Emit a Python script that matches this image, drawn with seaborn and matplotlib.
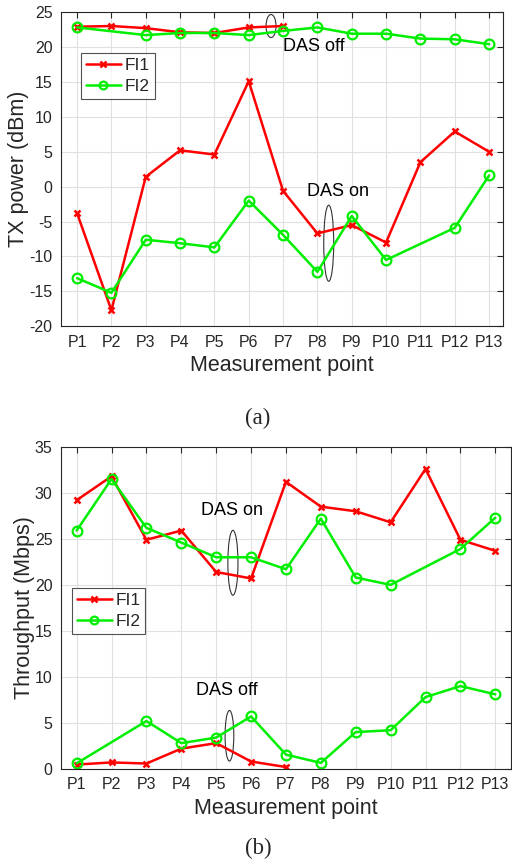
import numpy as np
import pandas as pd
import matplotlib
matplotlib.use("Agg")
import matplotlib.pyplot as plt
from matplotlib.patches import Ellipse
import seaborn as sns

points = ["P%d" % i for i in range(1, 14)]
nan = np.nan

# (a) TX power (dBm)
tx_fi1_off = [22.9, 23.0, 22.7, 22.1, 22.0, 22.8, 23.0, nan, nan, nan, nan, nan, nan]
tx_fi2_off = [22.8, nan, 21.7, 22.0, 22.0, 21.7, 22.3, 22.8, 21.9, 21.9, 21.2, 21.1, 20.4]
tx_fi1_on = [-3.8, -17.7, 1.4, 5.2, 4.6, 15.1, -0.6, -6.7, -5.5, -8.0, 3.5, 7.9, 5.0]
tx_fi2_on = [-13.1, -15.2, -7.6, -8.1, -8.7, -2.0, -6.9, -12.2, -4.2, -10.5, nan, -5.9, 1.6]

# (b) Throughput (Mbps)
th_fi1_on = [29.2, 31.8, 24.9, 25.9, 21.4, 20.7, 31.2, 28.5, 28.0, 26.8, 32.6, 24.9, 23.7]
th_fi2_on = [25.9, 31.5, 26.2, 24.6, 23.0, 23.0, 21.7, 27.2, 20.8, 20.0, nan, 23.9, 27.3]
th_fi1_off = [0.47, 0.7, 0.58, 2.2, 2.8, 0.8, 0.2, nan, nan, nan, nan, nan, nan]
th_fi2_off = [0.6, nan, 5.2, 2.8, 3.4, 5.7, 1.55, 0.65, 4.0, 4.2, 7.8, 9.0, 8.1]

sns.set_style("whitegrid")
plt.rcParams["font.family"] = ["Liberation Sans", "DejaVu Sans"]
plt.rcParams["axes.unicode_minus"] = False

fig = plt.figure(figsize=(5.12, 8.61), dpi=100)
ax1 = fig.add_axes([0.119, 0.621, 0.863, 0.365])
ax2 = fig.add_axes([0.119, 0.107, 0.879, 0.374])

RED = "#ff0000"
GREEN = "#00ee00"
dark = "#262626"


def draw(ax, vals, fi, label):
    df = pd.DataFrame({"x": np.arange(1, 14), "y": vals}).dropna()
    if fi == 1:
        sns.lineplot(data=df, x="x", y="y", ax=ax, color=RED, lw=1.8, ls="-",
                     marker="x", markersize=5, mew=1.8, mec=RED, label=label)
    else:
        sns.lineplot(data=df, x="x", y="y", ax=ax, color=GREEN, lw=1.8, ls="-",
                     marker="o", markersize=7, mew=1.6, mfc="none",
                     mec=GREEN, label=label)


draw(ax1, tx_fi1_off, 1, "FI1")
draw(ax1, tx_fi2_off, 2, "FI2")
draw(ax1, tx_fi1_on, 1, None)
draw(ax1, tx_fi2_on, 2, None)

draw(ax2, th_fi1_on, 1, "FI1")
draw(ax2, th_fi2_on, 2, "FI2")
draw(ax2, th_fi1_off, 1, None)
draw(ax2, th_fi2_off, 2, None)

for ax, ylab, ylim, xlim in [
    (ax1, "TX power (dBm)", (-20, 25), (0.53, 13.4)),
    (ax2, "Throughput (Mbps)", (0, 35), (0.55, 13.45)),
]:
    ax.set_xlim(*xlim)
    ax.set_ylim(*ylim)
    ax.set_yticks(np.arange(ylim[0], ylim[1] + 1, 5))
    ax.set_xticks(np.arange(1, 14))
    ax.set_xticklabels(points)
    ax.set_xlabel("Measurement point", fontsize=15.5, color=dark, labelpad=4)
    ax.set_ylabel(ylab, fontsize=15.5, color=dark, labelpad=0)
    ax.tick_params(direction="in", length=4, width=0.8, colors=dark,
                   labelsize=11.5, top=True, right=True, pad=6)
    ax.grid(True, color="#e0e0e0", lw=0.8)
    for s in ax.spines.values():
        s.set_color(dark)
        s.set_linewidth(0.8)

leg1 = ax1.legend(loc="upper left", bbox_to_anchor=(0.045, 0.87), fontsize=12.5,
                  frameon=True, fancybox=False, edgecolor=dark, handlelength=2.0,
                  handletextpad=0.2, borderpad=0.3, labelspacing=0.3,
                  borderaxespad=0, markerscale=0.8)
leg1.get_frame().set_linewidth(0.8)
leg2 = ax2.legend(loc="upper left", bbox_to_anchor=(0.024, 0.562), fontsize=12.5,
                  frameon=True, fancybox=False, edgecolor=dark, handlelength=2.0,
                  handletextpad=0.2, borderpad=0.3, labelspacing=0.3,
                  borderaxespad=0, markerscale=0.8)
leg2.get_frame().set_linewidth(0.8)

# annotations
ax1.add_patch(Ellipse((6.65, 23.0), 0.29, 3.3, fill=False, ec="#333333", lw=0.8))
ax1.text(7.0, 20.0, "DAS off", fontsize=13, va="center", ha="left", color="black")
ax1.add_patch(Ellipse((8.33, -8.1), 0.29, 10.9, fill=False, ec="#333333", lw=0.8))
ax1.text(7.7, -0.7, "DAS on", fontsize=13, va="center", ha="left", color="black")

ax2.add_patch(Ellipse((5.48, 22.4), 0.29, 7.05, fill=False, ec="#333333", lw=0.8))
ax2.text(4.57, 28.1, "DAS on", fontsize=13, va="center", ha="left", color="black")
ax2.add_patch(Ellipse((5.38, 3.6), 0.25, 5.5, fill=False, ec="#333333", lw=0.8))
ax2.text(4.43, 8.5, "DAS off", fontsize=13, va="center", ha="left", color="black")

fig.text(0.504, 1 - 418 / 861, "(a)", fontsize=16.5, ha="center", va="center",
         family=["Liberation Serif", "DejaVu Serif"])
fig.text(0.504, 1 - 848 / 861, "(b)", fontsize=16.5, ha="center", va="center",
         family=["Liberation Serif", "DejaVu Serif"])

fig.savefig("out.png", dpi=100)
